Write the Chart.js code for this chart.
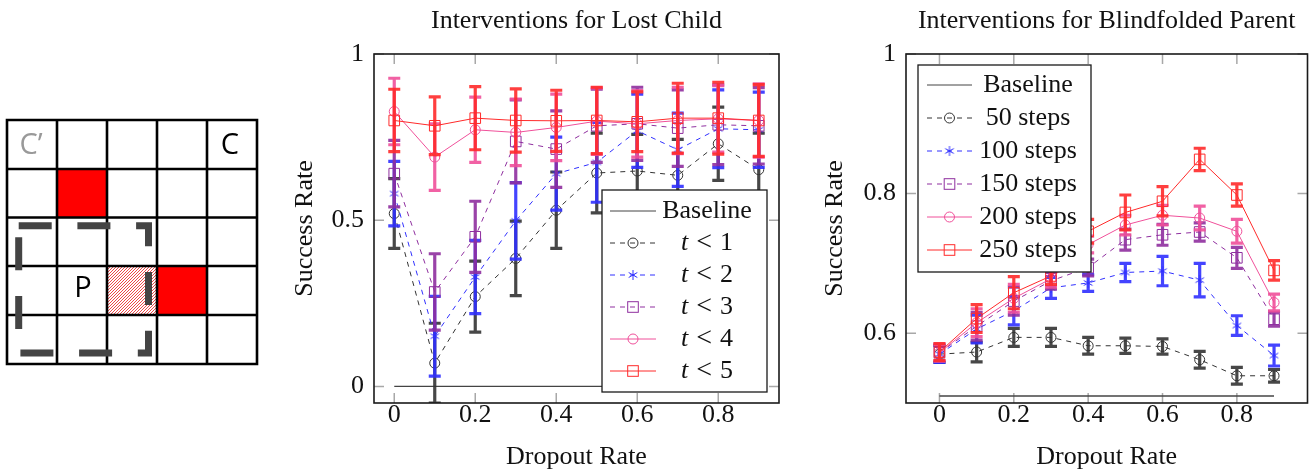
<!DOCTYPE html>
<html>
<head>
<meta charset="utf-8">
<script src="https://cdn.jsdelivr.net/npm/chart.js@4.4.1/dist/chart.umd.min.js"></script>
<style>
html, body { margin: 0; padding: 0; background: #fff; }
body { width: 1316px; height: 473px; position: relative; overflow: hidden; }
#grid { position: absolute; left: 0; top: 0; }
.box { position: absolute; top: 0; height: 473px; }
#box1 { left: 280px; width: 520px; }
#box2 { left: 812px; width: 504px; }
</style>
</head>
<body>
<canvas id="grid" width="270" height="473"></canvas>
<div class="box" id="box1"><canvas id="lostChart"></canvas></div>
<div class="box" id="box2"><canvas id="parentChart"></canvas></div>
<script>
// dropout rates (x) and tick labels
const dropout = [0, 0.1, 0.2, 0.3, 0.4, 0.5, 0.6, 0.7, 0.8, 0.9];
const xTicks = [0, 0.2, 0.4, 0.6, 0.8];
const xTickLabels = ['0', '0.2', '0.4', '0.6', '0.8'];
const lostYTicks = [0, 0.5, 1];
const lostYTickLabels = ['0', '0.5', '1'];
const parentYTicks = [0.6, 0.8, 1];
const parentYTickLabels = ['0.6', '0.8', '1'];

// Interventions for Lost Child
const lostBaseline = 0;
const lostT1 = [0.52, 0.07, 0.27, 0.385, 0.53, 0.642, 0.648, 0.635, 0.73, 0.652];
const lostT1Err = [0.105, 0.12, 0.107, 0.112, 0.115, 0.12, 0.11, 0.108, 0.11, 0.11];
const lostT2 = [0.58, 0.151, 0.329, 0.498, 0.64, 0.674, 0.769, 0.712, 0.775, 0.772];
const lostT2Err = [0.097, 0.12, 0.11, 0.115, 0.11, 0.12, 0.11, 0.11, 0.117, 0.113];
const lostT3 = [0.64, 0.284, 0.45, 0.737, 0.714, 0.784, 0.79, 0.777, 0.787, 0.784];
const lostT3Err = [0.1, 0.115, 0.107, 0.125, 0.115, 0.11, 0.11, 0.115, 0.12, 0.115];
const lostT4 = [0.827, 0.69, 0.772, 0.764, 0.779, 0.798, 0.79, 0.80, 0.805, 0.80];
const lostT4Err = [0.1, 0.1, 0.098, 0.1, 0.1, 0.1, 0.1, 0.1, 0.1, 0.11];
const lostT5 = [0.80, 0.784, 0.807, 0.80, 0.799, 0.80, 0.796, 0.807, 0.807, 0.80];
const lostT5Err = [0.094, 0.087, 0.095, 0.095, 0.092, 0.1, 0.09, 0.105, 0.108, 0.108];

// Interventions for Blindfolded Parent
const parentBaseline = 0.51;
const steps50 = [0.57, 0.573, 0.594, 0.594, 0.582, 0.582, 0.581, 0.562, 0.539, 0.539];
const steps50Err = [0.012, 0.014, 0.013, 0.013, 0.012, 0.011, 0.011, 0.012, 0.012, 0.009];
const steps100 = [0.57, 0.606, 0.632, 0.665, 0.672, 0.687, 0.689, 0.676, 0.611, 0.568];
const steps100Err = [0.012, 0.02, 0.02, 0.015, 0.012, 0.013, 0.021, 0.024, 0.014, 0.015];
const steps150 = [0.572, 0.61, 0.646, 0.675, 0.694, 0.734, 0.741, 0.745, 0.708, 0.62];
const steps150Err = [0.012, 0.02, 0.02, 0.012, 0.012, 0.015, 0.015, 0.013, 0.015, 0.01];
const steps200 = [0.572, 0.615, 0.65, 0.678, 0.727, 0.755, 0.769, 0.765, 0.746, 0.644];
const steps200Err = [0.012, 0.02, 0.02, 0.012, 0.012, 0.014, 0.014, 0.017, 0.017, 0.012];
const steps250 = [0.573, 0.621, 0.658, 0.682, 0.746, 0.773, 0.789, 0.849, 0.798, 0.69];
const steps250Err = [0.012, 0.02, 0.023, 0.012, 0.017, 0.025, 0.021, 0.016, 0.016, 0.014];

const SERIF = '"Liberation Serif", "Times New Roman", serif';
const BLACK = '#333333', BLUE = '#3030ff', PURPLE = '#8f2f9f', PINK = '#f0509a', RED = '#ff2a2a';

// six-spoke asterisk mark like pgfplots
function asterisk(color) {
  const c = document.createElement('canvas');
  c.width = 12; c.height = 12;
  const g = c.getContext('2d');
  g.strokeStyle = color; g.lineWidth = 1;
  for (let k = 0; k < 3; k++) {
    const a = Math.PI / 2 + k * Math.PI / 3;
    g.beginPath();
    g.moveTo(6 + 5 * Math.cos(a), 6 + 5 * Math.sin(a));
    g.lineTo(6 - 5 * Math.cos(a), 6 - 5 * Math.sin(a));
    g.stroke();
  }
  return c;
}

const lostSeries = [
  {label: 't < 1', values: lostT1, errors: lostT1Err, color: BLACK, dash: [5, 5], mark: 'circle'},
  {label: 't < 2', values: lostT2, errors: lostT2Err, color: BLUE, dash: [5, 5], mark: 'star'},
  {label: 't < 3', values: lostT3, errors: lostT3Err, color: PURPLE, dash: [5, 5], mark: 'rect'},
  {label: 't < 4', values: lostT4, errors: lostT4Err, color: PINK, dash: [], mark: 'circle'},
  {label: 't < 5', values: lostT5, errors: lostT5Err, color: RED, dash: [], mark: 'rect'}
];
const parentSeries = [
  {label: '50 steps', values: steps50, errors: steps50Err, color: BLACK, dash: [5, 5], mark: 'circle'},
  {label: '100 steps', values: steps100, errors: steps100Err, color: BLUE, dash: [5, 5], mark: 'star'},
  {label: '150 steps', values: steps150, errors: steps150Err, color: PURPLE, dash: [5, 5], mark: 'rect'},
  {label: '200 steps', values: steps200, errors: steps200Err, color: PINK, dash: [], mark: 'circle'},
  {label: '250 steps', values: steps250, errors: steps250Err, color: RED, dash: [], mark: 'rect'}
];

function buildDatasets(xs, baseline, series) {
  const n = series.length + 1;
  const sets = [{
    label: 'Baseline',
    data: xs.map(x => ({x: x, y: baseline})),
    borderColor: '#444', borderWidth: 1.3, pointRadius: 0, order: n
  }];
  series.forEach((s, i) => {
    let ps = s.mark, r = 5;
    if (s.mark === 'rect') r = 7.5;
    if (s.mark === 'star') { ps = asterisk(s.color); r = 6; }
    sets.push({
      label: s.label,
      data: xs.map((x, j) => ({x: x, y: s.values[j]})),
      errors: s.errors,
      borderColor: s.color, borderWidth: 1, borderDash: s.dash,
      pointStyle: ps, pointRadius: r,
      pointBorderColor: s.color, pointBackgroundColor: 'rgba(0,0,0,0)', pointBorderWidth: 1,
      tension: 0, order: n - 1 - i
    });
  });
  return sets;
}

function drawMark(ctx, ds, x, y) {
  if (!ds.pointRadius) return;
  ctx.save();
  ctx.setLineDash([]);
  ctx.strokeStyle = ds.borderColor;
  ctx.lineWidth = 1;
  if (ds.pointStyle === 'circle') {
    ctx.beginPath(); ctx.arc(x, y, ds.pointRadius, 0, Math.PI * 2); ctx.stroke();
  } else if (ds.pointStyle === 'rect') {
    const h = ds.pointRadius * Math.SQRT1_2;
    ctx.strokeRect(x - h, y - h, 2 * h, 2 * h);
  } else if (ds.pointStyle instanceof HTMLCanvasElement) {
    ctx.drawImage(ds.pointStyle, x - ds.pointStyle.width / 2, y - ds.pointStyle.height / 2);
  }
  ctx.restore();
}

// frame, inner ticks, error bars, legend and title in pgfplots style
const pgfPlugin = {
  id: 'pgf',
  beforeDatasetsDraw(chart) {
    const {ctx, chartArea: a, scales: {x, y}} = chart;
    ctx.save();
    ctx.strokeStyle = '#a8a8a8'; ctx.lineWidth = 1.5;
    ctx.beginPath();
    x.ticks.forEach(t => {
      const px = x.getPixelForValue(t.value);
      ctx.moveTo(px, a.top); ctx.lineTo(px, a.top + 10);
      ctx.moveTo(px, a.bottom); ctx.lineTo(px, a.bottom - 10);
    });
    y.ticks.forEach(t => {
      const py = y.getPixelForValue(t.value);
      ctx.moveTo(a.left, py); ctx.lineTo(a.left + 10, py);
      ctx.moveTo(a.right, py); ctx.lineTo(a.right - 10, py);
    });
    ctx.stroke();
    ctx.restore();
  },
  beforeDatasetDraw(chart, args) {
    const ds = chart.data.datasets[args.index];
    if (!ds.errors) return;
    const {ctx, chartArea: a, scales: {x, y}} = chart;
    ctx.save();
    ctx.beginPath(); ctx.rect(a.left, a.top, a.right - a.left, a.bottom - a.top); ctx.clip();
    ctx.strokeStyle = ds.borderColor; ctx.globalAlpha = 0.9; ctx.lineWidth = 3.2;
    ds.data.forEach((p, j) => {
      const px = x.getPixelForValue(p.x);
      const top = y.getPixelForValue(p.y + ds.errors[j]);
      const bot = y.getPixelForValue(p.y - ds.errors[j]);
      ctx.beginPath();
      ctx.moveTo(px, top); ctx.lineTo(px, bot);
      ctx.moveTo(px - 6, top); ctx.lineTo(px + 6, top);
      ctx.moveTo(px - 6, bot); ctx.lineTo(px + 6, bot);
      ctx.stroke();
    });
    ctx.restore();
  },
  afterDatasetsDraw(chart) {
    const {ctx, chartArea: a} = chart;
    ctx.save();
    ctx.strokeStyle = '#1a1a1a'; ctx.lineWidth = 1.6;
    ctx.strokeRect(a.left, a.top, a.right - a.left, a.bottom - a.top);
    ctx.restore();
  },
  afterDraw(chart, args, opts) {
    const {ctx, chartArea: a} = chart;
    ctx.save();
    ctx.fillStyle = '#111';
    ctx.font = '26px ' + SERIF;
    ctx.textAlign = 'center'; ctx.textBaseline = 'middle';
    ctx.fillText(opts.title, (a.left + a.right) / 2, 21);

    const L = opts.legend;
    const left = L.right != null ? a.right - L.right - L.w : a.left + L.left;
    const top = L.bottom != null ? a.bottom - L.bottom - L.h : a.top + L.top;
    ctx.fillStyle = '#fff';
    ctx.fillRect(left, top, L.w, L.h);
    ctx.strokeStyle = '#1a1a1a'; ctx.lineWidth = 1.3;
    ctx.strokeRect(left, top, L.w, L.h);
    chart.data.datasets.forEach((ds, i) => {
      const cy = top + L.row0 + i * L.gap;
      ctx.save();
      ctx.strokeStyle = ds.borderColor; ctx.lineWidth = 1;
      ctx.setLineDash(ds.borderDash || []);
      ctx.beginPath();
      ctx.moveTo(left + L.s0, cy); ctx.lineTo(left + L.s1, cy);
      ctx.stroke();
      ctx.restore();
      drawMark(ctx, ds, left + (L.s0 + L.s1) / 2, cy);
      const tx = left + L.tx;
      ctx.fillStyle = '#111';
      ctx.textBaseline = 'middle';
      if (ds.label.startsWith('t ')) {
        // math style: italic t, wide relation spacing around <
        const parts = ds.label.split(' ');
        const fonts = ['italic 26px ' + SERIF, '28px ' + SERIF, '26px ' + SERIF];
        const gap = 8;
        const widths = parts.map((p, k) => { ctx.font = fonts[k]; return ctx.measureText(p).width; });
        let x0 = tx - (widths[0] + widths[1] + widths[2] + 2 * gap) / 2;
        ctx.textAlign = 'left';
        parts.forEach((p, k) => {
          ctx.font = fonts[k];
          ctx.fillText(p, x0, cy);
          x0 += widths[k] + gap;
        });
      } else {
        ctx.font = '26px ' + SERIF;
        ctx.textAlign = 'center';
        ctx.fillText(ds.label, tx, cy);
      }
    });
    ctx.restore();
  }
};

function makeChart(id, cfg) {
  return new Chart(document.getElementById(id), {
    type: 'line',
    data: {datasets: cfg.datasets},
    options: {
      responsive: true, maintainAspectRatio: false, animation: false, devicePixelRatio: 1,
      layout: {padding: {top: 54, right: cfg.padRight, left: 0, bottom: 0}},
      plugins: {
        legend: {display: false}, tooltip: {enabled: false}, title: {display: false},
        pgf: {title: cfg.title, legend: cfg.legend}
      },
      scales: {
        x: {
          type: 'linear', min: cfg.xMin, max: cfg.xMax,
          grid: {display: false, drawTicks: false}, border: {display: false},
          afterBuildTicks: s => { s.ticks = xTicks.map(v => ({value: v})); },
          afterFit: s => { s.height = 70; },
          ticks: {
            autoSkip: false, maxRotation: 0, padding: -1, color: '#111',
            font: {family: SERIF, size: 26, lineHeight: 1},
            callback: (v, i) => xTickLabels[i]
          },
          title: {display: true, text: 'Dropout Rate', color: '#111', font: {family: SERIF, size: 26}, padding: {top: 0, bottom: 0}}
        },
        y: {
          min: cfg.yMin, max: cfg.yMax,
          grid: {display: false, drawTicks: false}, border: {display: false},
          afterBuildTicks: s => { s.ticks = cfg.yTicks.map(v => ({value: v})); },
          afterFit: s => { s.width = 94; },
          ticks: {
            autoSkip: false, padding: 10, color: '#111',
            font: {family: SERIF, size: 26, lineHeight: 1},
            callback: (v, i) => cfg.yTickLabels[i]
          },
          title: {display: true, text: 'Success Rate', color: '#111', font: {family: SERIF, size: 26}, padding: {top: cfg.yTitlePad, bottom: 0}}
        }
      }
    },
    plugins: [pgfPlugin]
  });
}

makeChart('lostChart', {
  title: 'Interventions for Lost Child',
  datasets: buildDatasets(dropout, lostBaseline, lostSeries),
  xMin: -0.05, xMax: 0.95, yMin: -0.05, yMax: 1,
  yTicks: lostYTicks, yTickLabels: lostYTickLabels,
  padRight: 21, yTitlePad: 9.4,
  legend: {right: 12, bottom: 11, w: 165, h: 202, row0: 21, gap: 32, s0: 8, s1: 54, tx: 105}
});

makeChart('parentChart', {
  title: 'Interventions for Blindfolded Parent',
  datasets: buildDatasets(dropout, parentBaseline, parentSeries),
  xMin: -0.09, xMax: 0.99, yMin: 0.5, yMax: 1,
  yTicks: parentYTicks, yTickLabels: parentYTickLabels,
  padRight: 7, yTitlePad: 7.4,
  legend: {left: 12, top: 11, w: 173, h: 207, row0: 20, gap: 33, s0: 9, s1: 54, tx: 110}
});

// grid-world diagram on the left
function drawGrid() {
  const g = document.getElementById('grid').getContext('2d');
  const xs = [7, 57, 107, 157, 207, 257];
  const ys = [120, 169, 217.5, 266, 315, 364];
  g.fillStyle = '#ff0000';
  g.fillRect(xs[1], ys[1], xs[2] - xs[1], ys[2] - ys[1]);
  g.fillRect(xs[3], ys[3], xs[4] - xs[3], ys[4] - ys[3]);

  // hatched cell
  g.save();
  g.beginPath(); g.rect(xs[2], ys[3], xs[3] - xs[2], ys[4] - ys[3]); g.clip();
  g.strokeStyle = 'rgba(235,40,40,0.85)'; g.lineWidth = 1;
  for (let k = -60; k < 60; k += 3) {
    g.beginPath(); g.moveTo(xs[2] + k, ys[4]); g.lineTo(xs[2] + k + 60, ys[4] - 60); g.stroke();
  }
  g.restore();

  g.strokeStyle = '#000'; g.lineWidth = 2.6;
  g.beginPath();
  xs.forEach(x => { g.moveTo(x, ys[0]); g.lineTo(x, ys[5]); });
  ys.forEach(y => { g.moveTo(xs[0] - 1.3, y); g.lineTo(xs[5] + 1.3, y); });
  g.stroke();

  g.font = '29px "Open Sans", "Noto Sans", sans-serif';
  g.textAlign = 'center'; g.textBaseline = 'middle';
  g.fillStyle = '#999';
  g.fillText('C\u2019', 31, 146);
  g.fillStyle = '#000';
  g.fillText('C', 230, 146);
  g.fillText('P', 83, 289);

  g.strokeStyle = '#444'; g.lineWidth = 7; g.lineCap = 'butt';
  g.setLineDash([33, 25.7]);
  g.beginPath();
  g.moveTo(18.7, 225.7); g.lineTo(148.5, 225.7); g.lineTo(148.5, 353); g.lineTo(18.7, 353); g.lineTo(18.7, 225.7);
  g.stroke();
}
drawGrid();
</script>
</body>
</html>
